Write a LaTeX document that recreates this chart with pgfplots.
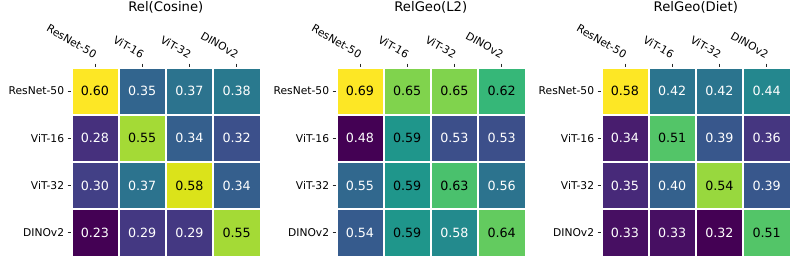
\documentclass[border=0pt]{standalone}
\usepackage{fontspec}
\setmainfont{DejaVu Sans}
\usepackage{pgfplots}
\usepackage{pgfplotstable}
\pgfplotsset{compat=1.18}

% w = 1: white annotation text, w = 0: black
\pgfplotstableread{
x y v w
0 0 0.60 0
1 0 0.35 1
2 0 0.37 1
3 0 0.38 1
0 1 0.28 1
1 1 0.55 0
2 1 0.34 1
3 1 0.32 1
0 2 0.30 1
1 2 0.37 1
2 2 0.58 0
3 2 0.34 1
0 3 0.23 1
1 3 0.29 1
2 3 0.29 1
3 3 0.55 0
}\cosine

\pgfplotstableread{
x y v w
0 0 0.69 0
1 0 0.65 0
2 0 0.65 0
3 0 0.62 0
0 1 0.48 1
1 1 0.59 0
2 1 0.53 1
3 1 0.53 1
0 2 0.55 1
1 2 0.59 0
2 2 0.63 0
3 2 0.56 1
0 3 0.54 1
1 3 0.59 0
2 3 0.58 1
3 3 0.64 0
}\geol

\pgfplotstableread{
x y v w
0 0 0.58 0
1 0 0.42 1
2 0 0.42 1
3 0 0.44 1
0 1 0.34 1
1 1 0.51 0
2 1 0.39 1
3 1 0.36 1
0 2 0.35 1
1 2 0.40 1
2 2 0.54 0
3 2 0.39 1
0 3 0.33 1
1 3 0.33 1
2 3 0.32 1
3 3 0.51 0
}\geodiet

\pgfplotsset{
  hm/.style={
    scale only axis, width=189pt, height=189pt,
    xmin=-0.5, xmax=3.5, ymin=-0.5, ymax=3.5, y dir=reverse,
    axis line style={draw=none},
    xtick={0,1,2,3}, ytick={0,1,2,3},
    xticklabels={ResNet-50,ViT-16,ViT-32,DINOv2},
    yticklabels={ResNet-50,ViT-16,ViT-32,DINOv2},
    xtick pos=right, xticklabel pos=right,
    ytick pos=left, yticklabel pos=left,
    tick align=outside, major tick length=3.7pt,
    tick style={black!85, line width=0.8pt},
    colormap/viridis,
    every tick label/.append style={font=\fontsize{10.7}{12}\selectfont},
    tick label style={font=\fontsize{10.7}{12}\selectfont},
    xticklabel style={rotate=-30, anchor=south east, font=\fontsize{10.7}{12}\selectfont},
    yticklabel style={font=\fontsize{10.7}{12}\selectfont},
    title style={font=\fontsize{13.2}{15}\selectfont, at={(0.5,1)}, anchor=center, yshift=53.7pt},
  },
  heat/.style={scatter, only marks, mark=square*, mark size=22.1pt,
    point meta=explicit,
    scatter/use mapped color={draw=mapped color, fill=mapped color}},
  lbl/.style={only marks, mark=none, point meta=explicit symbolic,
    visualization depends on={\thisrow{w}\as\wt},
    nodes near coords={\ifdim\wt pt>0.5pt\color{white}\else\color{black}\fi\pgfplotspointmeta},
    every node near coord/.append style={anchor=center, font=\fontsize{12.7}{14}\selectfont}},
}

\begin{document}
\begin{tikzpicture}
\useasboundingbox (0,0) rectangle (797pt,263pt);
\begin{axis}[hm, at={(71.3pt,6.7pt)}, anchor=south west, title={Rel(Cosine)},
  point meta min=0.23, point meta max=0.60]
\addplot[heat] table[x=x, y=y, meta=v] {\cosine};
\addplot[lbl] table[x=x, y=y, meta=v] {\cosine};
\end{axis}
\begin{axis}[hm, at={(336.3pt,6.7pt)}, anchor=south west, title={RelGeo(L2)},
  point meta min=0.48, point meta max=0.69]
\addplot[heat] table[x=x, y=y, meta=v] {\geol};
\addplot[lbl] table[x=x, y=y, meta=v] {\geol};
\end{axis}
\begin{axis}[hm, at={(601.3pt,6.7pt)}, anchor=south west, title={RelGeo(Diet)},
  point meta min=0.32, point meta max=0.58]
\addplot[heat] table[x=x, y=y, meta=v] {\geodiet};
\addplot[lbl] table[x=x, y=y, meta=v] {\geodiet};
\end{axis}
\end{tikzpicture}
\end{document}
